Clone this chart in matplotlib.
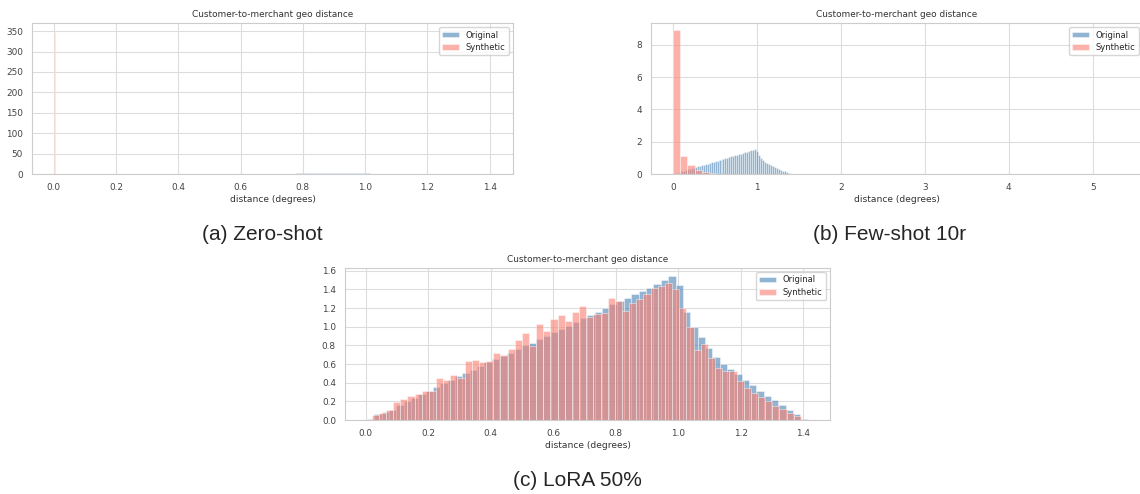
import numpy as np
import matplotlib
matplotlib.use('Agg')
import matplotlib.pyplot as plt
import seaborn as sns

sns.set_style('whitegrid')

# original distance histogram (density, 60 bins), shared by all three panels
orig_lo, orig_hi = 0.004, 1.414
orig_dens = [0.01, 0.06, 0.09, 0.11, 0.16, 0.20, 0.24, 0.28, 0.31, 0.35,
             0.40, 0.43, 0.47, 0.50, 0.54, 0.58, 0.62, 0.65, 0.69, 0.72,
             0.76, 0.80, 0.83, 0.87, 0.90, 0.94, 0.98, 1.01, 1.05, 1.09,
             1.12, 1.16, 1.20, 1.24, 1.27, 1.31, 1.35, 1.38, 1.42, 1.46,
             1.50, 1.54, 1.45, 1.16, 1.00, 0.89, 0.77, 0.68, 0.60, 0.55,
             0.49, 0.43, 0.37, 0.31, 0.26, 0.21, 0.16, 0.11, 0.06, 0.01]

# (a) zero-shot synthetic: everything collapsed at zero
syn_a_lo, syn_a_hi = 0.0, 0.0085
syn_a_dens = [349.0, 0.0, 4.0]

# (b) few-shot synthetic
syn_b_lo, syn_b_hi = 0.0, 5.2
syn_b_dens = [8.92, 1.12, 0.55, 0.26, 0.10, 0.05, 0.03, 0.02] + [0.0] * 51 + [0.005]

# (c) LoRA synthetic
syn_c_lo, syn_c_hi = 0.019, 1.392
syn_c_dens = [0.05, 0.08, 0.11, 0.19, 0.22, 0.26, 0.28, 0.31, 0.31, 0.45,
              0.43, 0.48, 0.45, 0.63, 0.64, 0.62, 0.63, 0.72, 0.70, 0.76,
              0.86, 0.93, 0.79, 1.03, 0.95, 1.08, 1.12, 1.06, 1.16, 1.22,
              1.10, 1.14, 1.15, 1.31, 1.28, 1.17, 1.25, 1.30, 1.35, 1.42,
              1.44, 1.47, 1.40, 1.20, 1.00, 0.75, 0.81, 0.66, 0.56, 0.53,
              0.52, 0.42, 0.34, 0.29, 0.25, 0.20, 0.15, 0.12, 0.08, 0.04]

captions = ['(a) Zero-shot', '(b) Few-shot 10r', '(c) LoRA 50%']
title = 'Customer-to-merchant geo distance'
xlabel = 'distance (degrees)'

W, H = 1140, 494
fig = plt.figure(figsize=(W / 100, H / 100), dpi=100)


def px_axes(x0, y0, x1, y1):
    return fig.add_axes([x0 / W, 1 - y1 / H, (x1 - x0) / W, (y1 - y0) / H])


def draw_hist(ax, lo, hi, dens, color, label):
    edges = np.linspace(lo, hi, len(dens) + 1)
    ax.hist(edges[:-1], bins=edges, weights=dens, color=color, alpha=0.6,
            edgecolor='white', linewidth=0.5, label=label)


def style(ax):
    ax.set_title(title, fontsize=6.4, pad=4, color='#333333')
    ax.set_xlabel(xlabel, fontsize=6.6, labelpad=2, color='#333333')
    ax.tick_params(labelsize=6.4, colors='#444444', pad=3)
    for s in ax.spines.values():
        s.set_color('#cccccc')
        s.set_linewidth(0.8)
    ax.grid(color='#dddddd', linewidth=0.8)
    ax.legend(loc='upper right', fontsize=6.0, frameon=True, framealpha=0.8,
              handlelength=2.0, borderpad=0.4, labelspacing=0.4)


ax_a = px_axes(32, 23, 513, 174)
draw_hist(ax_a, orig_lo, orig_hi, orig_dens, 'steelblue', 'Original')
draw_hist(ax_a, syn_a_lo, syn_a_hi, syn_a_dens, 'salmon', 'Synthetic')
ax_a.set_xlim(-0.07, 1.475)
ax_a.set_ylim(0, 370)
ax_a.set_yticks(np.arange(0, 351, 50))
style(ax_a)

ax_b = px_axes(651, 23, 1143, 174)
draw_hist(ax_b, orig_lo, orig_hi, orig_dens, 'steelblue', 'Original')
draw_hist(ax_b, syn_b_lo, syn_b_hi, syn_b_dens, 'salmon', 'Synthetic')
ax_b.set_xlim(-0.26, 5.6)
ax_b.set_ylim(0, 9.36)
style(ax_b)

ax_c = px_axes(345, 268, 830, 420)
draw_hist(ax_c, orig_lo, orig_hi, orig_dens, 'steelblue', 'Original')
draw_hist(ax_c, syn_c_lo, syn_c_hi, syn_c_dens, 'salmon', 'Synthetic')
ax_c.set_xlim(-0.066, 1.485)
ax_c.set_ylim(0, 1.629)
ax_c.set_yticks(np.arange(0, 1.61, 0.2))
ax_c.yaxis.set_major_formatter(matplotlib.ticker.FormatStrFormatter('%.1f'))
style(ax_c)

cap_kw = dict(fontsize=15, family='Liberation Sans', ha='center', va='center')
fig.text(262 / W, 1 - 235 / H, captions[0], **cap_kw)
fig.text(890 / W, 1 - 235 / H, captions[1], **cap_kw)
fig.text(577 / W, 1 - 480 / H, captions[2], **cap_kw)

fig.savefig('out.png', dpi=100)
